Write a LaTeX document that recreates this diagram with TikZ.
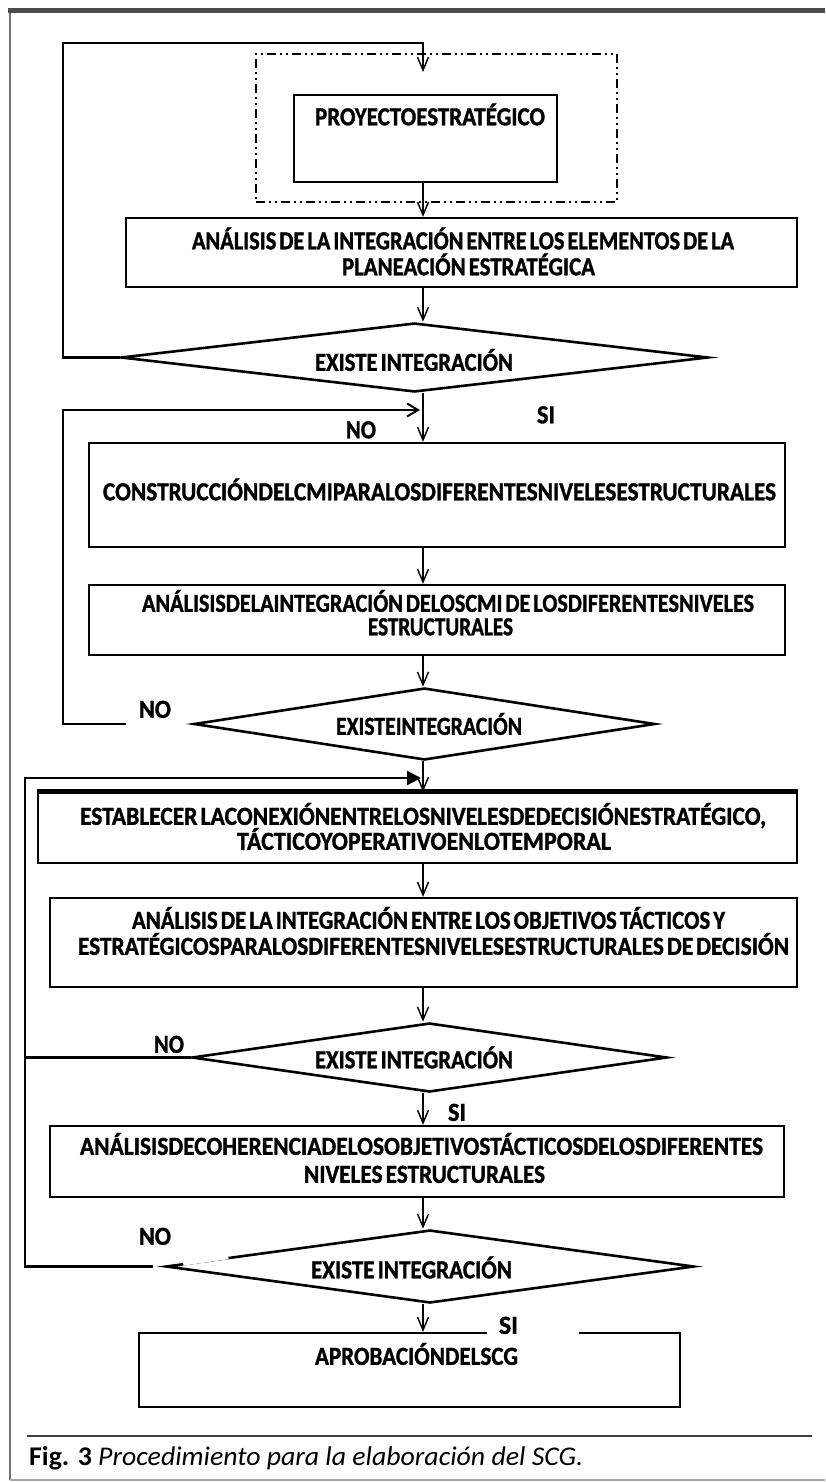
\documentclass[tikz,border=0pt]{standalone}
\usepackage{fontspec}
\setmainfont{Carlito}
\newfontfamily\boxfont{Carlito}[WordSpace=0.6, UprightFont={* Bold}, FakeBold=1.3]
\usepackage{graphicx}
\usetikzlibrary{arrows.meta,shapes.geometric,calc}
\newcommand\fw[2]{\resizebox{#1pt}{\height}{#2}}
% dx, dy (down), width, text : a line of text placed relative to the node centre
\newcommand\tl[4]{\raisebox{\dimexpr -#2pt - 8.3pt\relax}[0pt][0pt]{\makebox[0pt]{\kern#1pt\kern#1pt\fw{#3}{#4}}}}
\begin{document}
\begin{tikzpicture}[x=1pt,y=-1pt,
  txt/.style={font=\boxfont\fontsize{26}{29}\selectfont, inner sep=0pt},
  bx/.style={txt, draw, rectangle, line width=2.3pt},
  dbox/.style={draw, rectangle, line width=1.1pt, dash pattern=on 9pt off 4pt on 2pt off 4pt on 2pt off 4pt},
  dm/.style={txt, draw, diamond, aspect=8, line width=2.6pt},
  ln/.style={draw, line width=2.3pt},
  conn/.style={ln, -{Straight Barb[length=13pt,width=11pt,line width=1.4pt]}},
  connr/.style={ln, -{Straight Barb[length=11pt,width=13pt,line width=2pt]}},
  tri/.style={ln, -{Triangle[length=14pt,width=14pt]}},
  lbl/.style={txt}
]
\useasboundingbox (0,0) rectangle (825,1482);
% outer frame
\draw[line width=2pt, black!55] (10,11) -- (10,1480);
\draw[line width=1.5pt, black!35] (10,1480) -- (825,1480);
\draw[line width=5pt, black!70] (8,11) -- (825,11);

\coordinate (col) at (423,0);

% nodes
\node[dbox, minimum width=361pt, minimum height=148pt] (grp) at (436.5,128) {};
\node[bx, minimum width=263pt, minimum height=87pt] (proj) at (425.5,138.5)
  {\tl{4.5}{-21.5}{230}{PROYECTOESTRATÉGICO}};
\node[bx, minimum width=671pt, minimum height=69pt] (b2) at (461.5,252.5)
  {\tl{1.5}{-11.5}{542}{ANÁLISIS DE LA INTEGRACIÓN ENTRE LOS ELEMENTOS DE LA}\tl{7}{14.5}{253}{PLANEACIÓN ESTRATÉGICA}};
\node[dm, minimum width=587pt, minimum height=69pt] (d1) at (414.5,357.5)
  {\tl{-0.5}{5}{198}{EXISTE INTEGRACIÓN}};
\node[bx, minimum width=696pt, minimum height=104pt] (b3) at (437,495)
  {\tl{2.5}{-3}{673}{CONSTRUCCIÓNDELCMIPARALOSDIFERENTESNIVELESESTRUCTURALES}};
\node[bx, minimum width=696pt, minimum height=70pt] (b4) at (437,620)
  {\tl{11}{-16.5}{612}{ANÁLISISDELAINTEGRACIÓN DELOSCMI DE LOSDIFERENTESNIVELES}\tl{3.5}{7}{145}{ESTRUCTURALES}};
\node[dm, minimum width=461pt, minimum height=72pt] (d2) at (424.5,724)
  {\tl{4.5}{2.5}{186}{EXISTEINTEGRACIÓN}};
\node[bx, minimum width=759pt, minimum height=70pt] (b5) at (417.5,828)
  {\tl{5.5}{-11.5}{686}{ESTABLECER LACONEXIÓNENTRELOSNIVELESDEDECISIÓNESTRATÉGICO,}\tl{6.5}{13.5}{374}{TÁCTICOYOPERATIVOENLOTEMPORAL}};
\node[bx, minimum width=747pt, minimum height=89pt] (b6) at (423.5,942.5)
  {\tl{5}{-22}{593}{ANÁLISIS DE LA INTEGRACIÓN ENTRE LOS OBJETIVOS TÁCTICOS Y}\tl{10}{4}{711}{ESTRATÉGICOSPARALOSDIFERENTESNIVELESESTRUCTURALES DE DECISIÓN}};
\node[dm, minimum width=475pt, minimum height=69pt] (d3) at (429.5,1057.5)
  {\tl{-15.5}{2.5}{198}{EXISTE INTEGRACIÓN}};
\node[bx, minimum width=734pt, minimum height=71pt] (b7) at (417,1161.5)
  {\tl{4.5}{-15}{683}{ANÁLISISDECOHERENCIADELOSOBJETIVOSTÁCTICOSDELOSDIFERENTES}\tl{7.5}{13}{241}{NIVELES ESTRUCTURALES}};
\node[dm, minimum width=528pt, minimum height=73pt] (d4) at (430,1266.5)
  {\tl{-18.5}{3.5}{201}{EXISTE INTEGRACIÓN}};
\node[bx, minimum width=541pt, minimum height=74pt] (b8) at (409.5,1370)
  {\tl{7}{-13.5}{203}{APROBACIÓNDELSCG}};
\draw[line width=5pt] (b5.north west) -- (b5.north east);
% gap in the upper-left edge of the last decision
\draw[white, line width=3.5pt] ($(d4.west)!0.07!(d4.north)$) -- ($(d4.west)!0.24!(d4.north)$);

% labels
\node[lbl] (si1) at (546,415) {\tl{0}{0}{18}{SI}};
\node[lbl] (no1) at (361,430) {\tl{0}{0}{30}{NO}};
\node[lbl] (no2) at (155,709.5) {\tl{0}{0}{32}{NO}};
\node[lbl] (no3) at (169,1044.5) {\tl{0}{0}{30}{NO}};
\node[lbl] (si3) at (457,1112.5) {\tl{0}{0}{18}{SI}};
\node[lbl] (no4) at (155,1236.5) {\tl{0}{0}{32}{NO}};
\node[lbl, fill=white, minimum width=92pt, minimum height=24pt] (si4) at (533,1324)
  {\tl{-24.5}{1.5}{19}{SI}};

% main column connectors
\coordinate (T1) at (423,72);
\coordinate (L1) at (63,43);
\draw[conn] (d1.west) -| (L1) -- (col |- L1) -- (T1);
\draw[conn] (col |- proj.south) -- (col |- b2.north);
\draw[conn] (col |- b2.south) -- (col |- d1.north);
\draw[conn] (col |- d1.south) -- (col |- b3.north);
\draw[conn] (col |- b3.south) -- (col |- b4.north);
\draw[conn] (col |- b4.south) -- (col |- d2.north);
\draw[conn] (col |- d2.south) -- (col |- b5.north);
\draw[conn] (col |- b5.south) -- (col |- b6.north);
\draw[conn] (col |- b6.south) -- (col |- d3.north);
\draw[conn] (col |- d3.south) -- (col |- b7.north);
\draw[conn] (col |- b7.south) -- (col |- d4.north);
\draw[conn] (col |- d4.south) -- (col |- b8.north);

% loop back connectors
\coordinate (N2) at (126,724);
\coordinate (L2) at (63,410);
\coordinate (E2) at (420,410);
\draw[connr] (N2) -| (L2) -- (E2);
\coordinate (L3) at (25,778);
\coordinate (E3) at (421,778);
\draw[tri] (d3.west) -| (L3) -- (E3);
\coordinate (N4) at (153,1266.5);
\draw[ln] (N4) -| (L3 |- d3.west);

% caption
\draw[line width=2pt, black!75] (27,1436) -- (812,1436);
\node[anchor=base west, inner sep=0pt, font=\fontsize{27}{30}\selectfont] (cap) at (29,1465)
  {\resizebox{554pt}{\height}{\textbf{Fig. 3} \textit{Procedimiento para la elaboración del SCG.}}};
\end{tikzpicture}
\end{document}
